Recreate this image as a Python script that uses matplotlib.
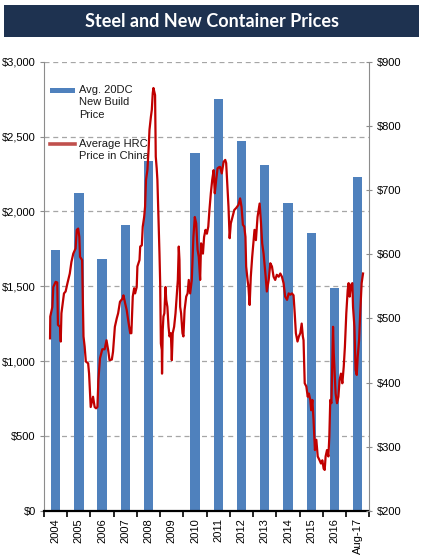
import matplotlib
matplotlib.use("Agg")
import matplotlib.pyplot as plt
from matplotlib.patches import Rectangle
from matplotlib.lines import Line2D
from matplotlib.ticker import FuncFormatter, MultipleLocator
import numpy as np

plt.rcParams['font.family'] = ['Liberation Sans', 'DejaVu Sans']

# ---------------- data ----------------
categories = ['2004', '2005', '2006', '2007', '2008', '2009', '2010', '2011',
              '2012', '2013', '2014', '2015', '2016', 'Aug-17']
container_price = [1740, 2125, 1680, 1910, 2340, np.nan, 2390, 2750,
                   2470, 2310, 2055, 1855, 1490, 2228]

hrc_time = [
    2004.26, 2004.27, 2004.36, 2004.40, 2004.50, 2004.57, 2004.60, 2004.69, 2004.72, 2004.75,
    2004.86, 2004.93, 2005.01, 2005.11, 2005.18, 2005.26, 2005.36, 2005.41, 2005.47, 2005.52,
    2005.55, 2005.64, 2005.70, 2005.75, 2005.80, 2005.90, 2005.94, 2006.01, 2006.11, 2006.18,
    2006.24, 2006.30, 2006.34, 2006.41, 2006.51, 2006.61, 2006.69, 2006.76, 2006.82, 2006.92,
    2006.97, 2007.05, 2007.13, 2007.19, 2007.27, 2007.38, 2007.42, 2007.49, 2007.56, 2007.62,
    2007.71, 2007.76, 2007.82, 2007.88,
    2007.92, 2007.99, 2008.02, 2008.11, 2008.14, 2008.21, 2008.25, 2008.31, 2008.35, 2008.39,
    2008.45, 2008.50, 2008.54, 2008.60, 2008.64, 2008.68, 2008.71, 2008.75, 2008.78, 2008.81,
    2008.85, 2008.88, 2008.93, 2008.97, 2009.00, 2009.03, 2009.07, 2009.08, 2009.11, 2009.14,
    2009.18, 2009.23, 2009.26, 2009.31, 2009.36, 2009.40, 2009.46, 2009.50, 2009.54, 2009.60,
    2009.66, 2009.72, 2009.76, 2009.80, 2009.83, 2009.86, 2009.90, 2009.96, 2010.00, 2010.05,
    2010.12, 2010.18, 2010.23, 2010.29, 2010.36, 2010.43, 2010.49, 2010.55, 2010.61, 2010.66,
    2010.72, 2010.76, 2010.84, 2010.89, 2010.95, 2011.01, 2011.07, 2011.12, 2011.18, 2011.24,
    2011.30, 2011.35, 2011.41, 2011.47, 2011.55,
    2011.58, 2011.65, 2011.73, 2011.80, 2011.84, 2011.90, 2011.94, 2011.99, 2012.04, 2012.11,
    2012.19, 2012.27, 2012.37, 2012.44, 2012.50, 2012.56, 2012.62, 2012.67, 2012.70, 2012.76,
    2012.80, 2012.85, 2012.90, 2012.96, 2013.02, 2013.06, 2013.12, 2013.19, 2013.28, 2013.34,
    2013.39, 2013.45, 2013.54, 2013.59, 2013.67, 2013.74, 2013.81, 2013.88, 2013.95, 2014.02,
    2014.10, 2014.17, 2014.24, 2014.31, 2014.38, 2014.46, 2014.53, 2014.60,
    2014.67, 2014.74, 2014.79, 2014.84, 2014.91, 2014.97, 2015.03, 2015.09, 2015.14, 2015.17,
    2015.22, 2015.29, 2015.35, 2015.40, 2015.46, 2015.50, 2015.55, 2015.60, 2015.66, 2015.72,
    2015.78, 2015.86, 2015.92, 2015.98, 2016.035, 2016.08, 2016.12, 2016.18, 2016.24, 2016.28,
    2016.32, 2016.37, 2016.41, 2016.44, 2016.47, 2016.51, 2016.55, 2016.61, 2016.67, 2016.72,
    2016.78, 2016.84, 2016.90, 2016.95, 2017.01, 2017.07, 2017.11, 2017.155, 2017.21, 2017.27,
    2017.30, 2017.36, 2017.41, 2017.46, 2017.50, 2017.56, 2017.615, 2017.67, 2017.73,
]
hrc_price = [
    469, 503, 518, 549, 557, 556, 490, 487, 464, 508,
    539, 542, 555, 570, 588, 601, 609, 638, 640, 627,
    596, 591, 472, 456, 433, 430, 414, 362, 378, 362,
    360, 362, 404, 438, 452, 452, 466, 451, 435, 436,
    448, 487, 500, 508, 526, 531, 536, 524, 513, 498,
    477, 477, 534, 547,
    539, 549, 581, 591, 612, 614, 643, 658, 674, 716,
    731, 762, 794, 814, 825, 851, 859, 853, 848, 752,
    734, 716, 653, 601, 555, 461, 451, 414, 482, 503,
    508, 549, 529, 518, 487, 472, 477, 435, 477, 487,
    508, 539, 560, 612, 591, 518, 508, 477, 472, 513,
    534, 539, 560, 539, 560, 627, 658, 648, 607, 596,
    560, 617, 601, 627, 638, 632, 643, 669, 695, 716,
    731, 695, 716, 734, 736,
    736, 726, 744, 747, 742, 700, 674, 625, 648, 658,
    669, 672, 677, 687, 674, 646, 643, 627, 581, 560,
    549, 521, 565, 596, 622, 638, 622, 658, 679, 648,
    617, 601, 565, 542, 560, 586, 581, 565, 560, 568,
    565, 570, 565, 555, 534, 529, 539, 537,
    539, 536, 508, 477, 464, 472, 477, 492, 472, 466,
    399, 394, 378, 383, 373, 357, 373, 342, 295, 311,
    285, 279, 274, 279, 266, 264, 285, 295, 285, 316,
    373, 368, 435, 487, 446, 414, 383, 368, 378, 404,
    414, 399, 425, 456, 508, 544, 555, 534, 552, 555,
    518, 487, 420, 412, 440, 466, 513, 555, 570,
]

legend_labels = ['Avg. 20DC\nNew Build\nPrice', 'Average HRC\nPrice in China']
title_text = 'Steel and New Container Prices'

# ---------------- styling ----------------
BAR_COLOR = '#4F81BD'
LINE_COLOR = '#C00000'
AXIS_GREY = '#8C8C8C'
GRID_GREY = '#A6A6A6'

fig = plt.figure(figsize=(4.23, 5.55), dpi=100)
fig.patch.set_facecolor('white')

# title banner
fig.patches.append(Rectangle((4 / 423, 1 - 37 / 555), 415 / 423, 32 / 555,
                             transform=fig.transFigure, facecolor='#1E3250',
                             edgecolor='none', zorder=0))
fig.text(0.5, 1 - 21.5 / 555, title_text, color='white', fontsize=13,
         fontweight='bold', family=['Lato', 'DejaVu Sans'], ha='center', va='center')

ax = fig.add_axes([44 / 423, 1 - 511 / 555, 325.3 / 423, 449.3 / 555])
ax2 = ax.twinx()

x = np.arange(len(categories))
ax.bar(x, container_price, width=0.40, color=BAR_COLOR, zorder=2)

t = np.array(hrc_time) - 2004.5
ax2.plot(t, hrc_price, color=LINE_COLOR, lw=1.6, zorder=3, solid_joinstyle='round')

ax.set_xlim(-0.5, len(categories) - 0.5)
ax.set_ylim(0, 3000)
ax2.set_ylim(200, 900)

ax.yaxis.set_major_locator(MultipleLocator(500))
ax.yaxis.set_major_formatter(FuncFormatter(lambda v, p: f'${v:,.0f}'))
ax2.yaxis.set_major_locator(MultipleLocator(100))
ax2.yaxis.set_major_formatter(FuncFormatter(lambda v, p: f'${v:,.0f}'))

ax.grid(axis='y', color=GRID_GREY, linestyle=(0, (4, 3)), lw=0.9, zorder=0)
ax.set_axisbelow(True)

ax.set_xticks(x)
ax.set_xticklabels(categories, rotation=90, fontsize=8, va='top')
ax.set_xticks(np.arange(-0.5, len(categories) + 0.5, 1), minor=True)
ax.tick_params(axis='x', which='major', length=0, pad=5)
ax.tick_params(axis='x', which='minor', length=4, width=1.2, color='black', direction='out')

ax.tick_params(axis='y', labelsize=8, length=3, color=AXIS_GREY, pad=3)
ax2.tick_params(axis='y', labelsize=8, length=5, color=AXIS_GREY, direction='inout', pad=3)

for s in ['top', 'right']:
    ax.spines[s].set_visible(False)
ax.spines['left'].set_color(AXIS_GREY)
ax.spines['bottom'].set_color('black')
ax.spines['bottom'].set_linewidth(1.6)
for s in ['top', 'left', 'bottom']:
    ax2.spines[s].set_visible(False)
ax2.spines['right'].set_color(AXIS_GREY)

# manual legend (handles aligned with first label line)
ax.add_patch(Rectangle((0.018, 0.930), 0.077, 0.011, transform=ax.transAxes,
                       facecolor=BAR_COLOR, edgecolor='none', zorder=5, clip_on=False))
ax.text(0.108, 0.948, legend_labels[0], transform=ax.transAxes, fontsize=8,
        va='top', ha='left', linespacing=1.3, color='#1A1A1A', zorder=5)
ax.add_line(Line2D([0.018, 0.095], [0.816, 0.816], transform=ax.transAxes,
                   color='#C0504D', lw=2.6, zorder=5))
ax.text(0.108, 0.829, legend_labels[1], transform=ax.transAxes, fontsize=8,
        va='top', ha='left', linespacing=1.3, color='#1A1A1A', zorder=5)

fig.savefig('out.png', dpi=100)
